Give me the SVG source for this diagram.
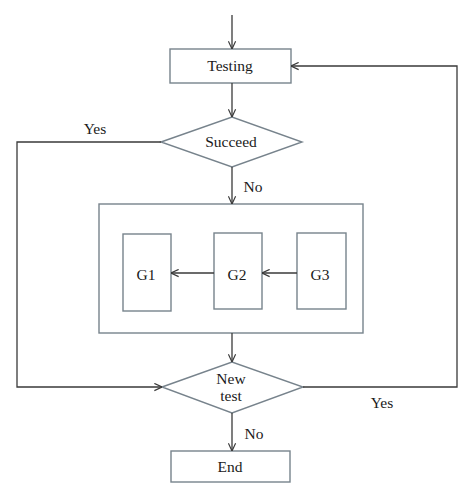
<svg xmlns="http://www.w3.org/2000/svg" width="474" height="500" viewBox="0 0 474 500">
<style>
.box{fill:#fff;stroke:#77838c;stroke-width:1.4}
.ln{fill:none;stroke:#3a3a3a;stroke-width:1.3}
.t{font-family:"Liberation Serif",serif;font-size:15.5px;fill:#1a1a1a;text-anchor:middle}
</style>
<defs>
<marker id="a" viewBox="0 0 10 10" refX="9.5" refY="5" markerWidth="9" markerHeight="9" markerUnits="userSpaceOnUse" orient="auto">
<path d="M1,1 L9.5,5 L1,9" fill="none" stroke="#3a3a3a" stroke-width="1.3"/>
</marker>
</defs>
<rect width="474" height="500" fill="#fff"/>
<g id="testing">
<rect class="box" x="170" y="49" width="121" height="34"/>
<text class="t" x="230" y="71">Testing</text>
</g>
<g id="succeed">
<polygon class="box" points="161,142 232,117 302,142 232,167"/>
<text class="t" x="231" y="147">Succeed</text>
</g>
<g id="group">
<rect class="box" x="99" y="204" width="264" height="129"/>
</g>
<g id="g1">
<rect class="box" x="123" y="234" width="48" height="77"/>
<text class="t" x="146" y="280">G1</text>
</g>
<g id="g2">
<rect class="box" x="214" y="233" width="48" height="76"/>
<text class="t" x="237" y="280">G2</text>
</g>
<g id="g3">
<rect class="box" x="297" y="233" width="49" height="76"/>
<text class="t" x="320" y="280">G3</text>
</g>
<g id="newtest">
<polygon class="box" points="162,387 232,362 303,387 232,413"/>
<text class="t" x="231" y="384">New</text>
<text class="t" x="231" y="401">test</text>
</g>
<g id="end">
<rect class="box" x="171" y="451" width="119" height="31"/>
<text class="t" x="230" y="472">End</text>
</g>
<g id="connectors">
<path class="ln" d="M232,15 V49" marker-end="url(#a)"/>
<path class="ln" d="M232,83 V117" marker-end="url(#a)"/>
<path class="ln" d="M232,167 V204" marker-end="url(#a)"/>
<path class="ln" d="M161,142 H17 V387 H162" marker-end="url(#a)"/>
<path class="ln" d="M232,333 V362" marker-end="url(#a)"/>
<path class="ln" d="M303,387 H457 V66 H291" marker-end="url(#a)"/>
<path class="ln" d="M232,413 V451" marker-end="url(#a)"/>
<path class="ln" d="M214,273 H171" marker-end="url(#a)"/>
<path class="ln" d="M297,273 H262" marker-end="url(#a)"/>
<text class="t" x="95" y="134">Yes</text>
<text class="t" x="253" y="192">No</text>
<text class="t" x="382" y="408">Yes</text>
<text class="t" x="254" y="439">No</text>
</g>
</svg>
